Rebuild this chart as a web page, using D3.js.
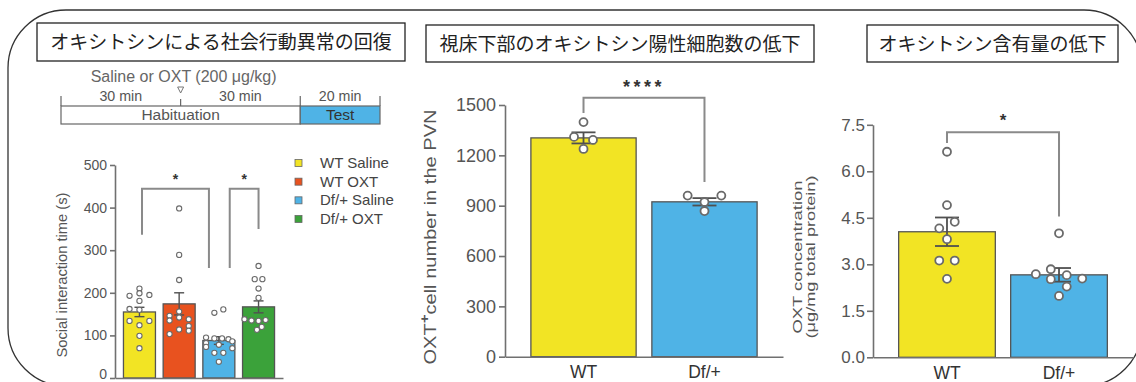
<!DOCTYPE html>
<html>
<head>
<meta charset="utf-8">
<script src="https://cdn.jsdelivr.net/npm/d3@7"></script>
<style>
  body { margin: 0; background: #fff; }
  svg { display: block; }
</style>
</head>
<body>
<svg id="chart" width="1136" height="382"></svg>
<script>
// ---------------- data ----------------
const panelTitles = [
  "オキシトシンによる社会行動異常の回復",
  "視床下部のオキシトシン陽性細胞数の低下",
  "オキシトシン含有量の低下"
];

// social interaction test (four treatment groups)
const socialGroups = ["WT Saline", "WT OXT", "Df/+ Saline", "Df/+ OXT"];
const socialMeans = [155, 174, 88, 167];
const socialSem = [11, 26, 9, 14];
const socialPoints = [
  [210, 199, 193, 195, 181, 162, 160, 134, 124, 134, 99, 70],
  [398, 289, 230, 156, 146, 142, 138, 135, 122, 114, 111, 103],
  [161, 153, 95, 93, 93, 91, 86, 82, 78, 73, 70, 59, 59, 38],
  [263, 232, 232, 210, 188, 138, 135, 134, 136, 120, 113]
];
// horizontal lane of each dot, as a fraction of the bar width
const socialLanes = [
  [0, 0, -0.31, 0.31, 0, -0.31, 0, -0.31, 0, 0.31, 0, 0],
  [0, 0, 0, 0, -0.3, 0, 0.3, -0.3, 0.3, 0, 0.3, -0.3],
  [0.14, -0.14, -0.4, -0.14, 0.1, 0.3, 0.42, -0.4, 0, -0.4, 0.42, -0.14, 0.14, 0],
  [0, -0.12, 0.12, 0, 0, -0.44, -0.22, 0, 0.22, 0.1, -0.05]
];
const socialTicks = [0, 100, 200, 300, 400, 500];
const socialBrackets = [
  { from: 0, to: 2, top: 444, legs: [336, 258], shift: [0.08, -0.31], label: "*", labelAt: 474 },
  { from: 2, to: 3, top: 444, legs: [258, 350], shift: [0.34, 0], label: "*", labelAt: 474 }
];

// test schedule (minutes)
const scheduleMarks = [0, 30, 60, 80];
const schedulePhases = ["Habituation", "Test"];
const phaseBounds = [[0, 60], [60, 80]];
const intervalLabels = ["30 min", "30 min", "20 min"];
const injectionTime = 30;
const injectionLabel = "Saline or OXT (200 μg/kg)";

// OXT+ cells in the PVN
const genotypes = ["WT", "Df/+"];
const cellMeans = [1304, 923];
const cellSem = [33, 22];
const cellPoints = [[1398, 1310, 1292, 1238], [960, 922, 960, 868]];
const cellLanes = [[0, -0.09, 0.09, 0], [-0.16, 0, 0.16, 0]];
const cellTicks = [0, 300, 600, 900, 1200, 1500];
const cellBrackets = [{ from: 0, to: 1, top: 1543, legs: [1453, 1041], shift: [0, 0], label: "****", labelAt: 1632 }];

// OXT content
const oxtMeans = [4.05, 2.66];
const oxtSem = [0.46, 0.22];
const oxtPoints = [
  [6.63, 4.91, 4.16, 4.37, 3.81, 3.12, 3.12, 2.53],
  [4.0, 2.68, 2.84, 2.52, 2.65, 2.54, 2.28, 1.98]
];
const oxtLanes = [
  [0, 0, -0.08, 0.08, 0, -0.08, 0.08, 0],
  [0, -0.24, -0.085, -0.085, 0.08, 0.24, 0.08, 0]
];
const oxtTicks = [0, 1.5, 3, 4.5, 6, 7.5];
const oxtBrackets = [{ from: 0, to: 1, top: 7.26, legs: [6.91, 4.54], shift: [0, 0], label: "*", labelAt: 7.75 }];

// ---------------- styles ----------------
const FONT = '"Liberation Sans", Arial, sans-serif';
const FONT_JP = '"Noto Sans CJK JP", "Noto Sans CJK SC", sans-serif';
const groupColors = ["#f2e424", "#e8521f", "#4fb3e6", "#3ba23a"];
const genotypeColors = ["#f2e424", "#4fb3e6"];
const AXIS = "#707070", LABEL = "#555", BRACKET = "#8a8a8a";

const svg = d3.select("#chart");

// outer rounded frame
svg.append("rect")
  .attr("x", 8).attr("y", 10).attr("width", 1134).attr("height", 376).attr("rx", 58)
  .attr("fill", "none").attr("stroke", "#333").attr("stroke-width", 1.3);

// panel headings in boxes
const titleBoxes = [[37, 23, 368, 38], [426, 25, 388, 37], [867, 25, 251, 37]];
titleBoxes.forEach((b, i) => {
  svg.append("rect").attr("x", b[0]).attr("y", b[1]).attr("width", b[2]).attr("height", b[3])
    .attr("fill", "#fff").attr("stroke", "#222").attr("stroke-width", 1.3);
  svg.append("text").attr("x", b[0] + b[2] / 2).attr("y", b[1] + b[3] / 2 + 7)
    .attr("text-anchor", "middle").attr("font-family", FONT_JP).attr("font-size", 19)
    .attr("fill", "#222").text(panelTitles[i]);
});

// squeeze text horizontally around its own anchor point
function squeeze(sel, sx) {
  sel.each(function () {
    const t = d3.select(this);
    const x = +t.attr("x") || 0, y = +t.attr("y") || 0;
    t.attr("transform", `translate(${x},${y}) scale(${sx},1) translate(${-x},${-y})`);
  });
}

// ---------------- schedule ----------------
const tl = d3.scaleLinear().domain([0, 80]).range([61, 380]);
const sg = svg.append("g").attr("font-family", FONT);
sg.selectAll("rect").data(phaseBounds).join("rect")
  .attr("x", d => tl(d[0])).attr("y", 106)
  .attr("width", d => tl(d[1]) - tl(d[0])).attr("height", 18)
  .attr("fill", (d, i) => i ? "#4fb3e6" : "#fff")
  .attr("stroke", "#666").attr("stroke-width", 1.2);
sg.selectAll("text.phase").data(phaseBounds).join("text").attr("class", "phase")
  .attr("x", d => (tl(d[0]) + tl(d[1])) / 2).attr("y", 120)
  .attr("text-anchor", "middle").attr("font-size", 15.5).attr("fill", (d, i) => i ? "#333" : "#555")
  .text((d, i) => schedulePhases[i]);
sg.selectAll("line.mark").data(scheduleMarks).join("line").attr("class", "mark")
  .attr("x1", d => tl(d)).attr("x2", d => tl(d))
  .attr("y1", d => d === injectionTime ? 99 : 96).attr("y2", 106)
  .attr("stroke", "#666").attr("stroke-width", 1.2);
sg.selectAll("text.interval").data(intervalLabels).join("text").attr("class", "interval")
  .attr("x", (d, i) => (tl(scheduleMarks[i]) + tl(scheduleMarks[i + 1])) / 2).attr("y", 101)
  .attr("text-anchor", "middle").attr("font-size", 15).attr("fill", "#555")
  .text(d => d).call(squeeze, 0.95);
sg.append("path")
  .attr("d", `M${tl(injectionTime) - 3},87 L${tl(injectionTime) + 3},87 L${tl(injectionTime)},93 Z`)
  .attr("fill", "#fff").attr("stroke", "#777").attr("stroke-width", 1);
sg.append("text").attr("x", tl(injectionTime) + 3).attr("y", 82)
  .attr("text-anchor", "middle").attr("font-size", 16).attr("fill", "#666")
  .text(injectionLabel);

// ---------------- generic bar + dots panel ----------------
function barPanel(cfg) {
  const g = svg.append("g").attr("font-family", FONT);
  const x = d3.scaleBand().domain(cfg.cats).range(cfg.xRange)
    .paddingInner(cfg.padIn).paddingOuter(cfg.padOut);
  const y = d3.scaleLinear().domain(cfg.yDomain).range(cfg.yRange);
  const bw = x.bandwidth();
  const cx = i => x(cfg.cats[i]) + bw / 2;

  // bars
  g.selectAll("rect.bar").data(cfg.means).join("rect").attr("class", "bar")
    .attr("x", (d, i) => x(cfg.cats[i])).attr("y", d => y(d))
    .attr("width", bw).attr("height", d => y(0) - y(d))
    .attr("fill", (d, i) => cfg.colors[i])
    .attr("stroke", "#555").attr("stroke-width", 1.3);

  // error bars (mean ± SEM)
  const eb = g.append("g").attr("stroke", "#505050").attr("stroke-width", cfg.ebWidth);
  cfg.means.forEach((m, i) => {
    const s = cfg.sem[i];
    eb.append("line").attr("x1", cx(i)).attr("x2", cx(i)).attr("y1", y(m - s)).attr("y2", y(m + s));
    [m - s, m + s].forEach(v => eb.append("line")
      .attr("x1", cx(i) - cfg.cap).attr("x2", cx(i) + cfg.cap).attr("y1", y(v)).attr("y2", y(v)));
  });

  // individual animals
  cfg.points.forEach((arr, i) => {
    g.append("g").selectAll("circle").data(arr).join("circle")
      .attr("cx", (d, j) => cx(i) + cfg.lanes[i][j] * bw)
      .attr("cy", d => y(d)).attr("r", cfg.r)
      .attr("fill", "#fff").attr("stroke", "#6a6a6a").attr("stroke-width", cfg.dotStroke);
  });

  // axes
  const ya = g.append("g").attr("transform", `translate(${cfg.xRange[0]},0)`)
    .call(d3.axisLeft(y).tickValues(cfg.ticks).tickSize(cfg.tickLen).tickSizeOuter(0)
      .tickPadding(cfg.tickPad).tickFormat(cfg.tickFormat || d3.format("d")));
  const xa = g.append("g").attr("transform", `translate(0,${y(0)})`)
    .call(d3.axisBottom(x).tickSize(0).tickSizeOuter(0).tickPadding(cfg.xPad || 0)
      .tickFormat(cfg.xLabels ? (d, i) => cfg.xLabels[i] : () => ""));
  [ya, xa].forEach(a => {
    a.select(".domain").attr("stroke", AXIS).attr("stroke-width", 1.6);
    a.selectAll(".tick line").attr("stroke", AXIS).attr("stroke-width", 1.6);
  });
  ya.selectAll(".tick text").attr("font-size", cfg.tickFont).attr("fill", LABEL)
    .attr("font-family", FONT)
    .attr("transform", `scale(${cfg.tickSqueeze},1)`);
  // keep the zero label inside the page when the baseline sits at the bottom edge
  if (cfg.zeroLabelDy !== undefined) {
    ya.selectAll(".tick text").filter(d => d === 0).attr("dy", cfg.zeroLabelDy);
  }
  xa.selectAll(".tick text").attr("font-size", cfg.xFont || 18).attr("fill", "#333")
    .attr("font-family", FONT);

  // significance brackets
  cfg.brackets.forEach(b => {
    const x1 = cx(b.from) + b.shift[0] * bw, x2 = cx(b.to) + b.shift[1] * bw;
    g.append("path")
      .attr("d", `M${x1},${y(b.legs[0])} V${y(b.top)} H${x2} V${y(b.legs[1])}`)
      .attr("fill", "none").attr("stroke", BRACKET).attr("stroke-width", cfg.bracketWidth);
    g.append("text").attr("x", (x1 + x2) / 2).attr("y", y(b.labelAt) + cfg.starFont * 0.55)
      .attr("text-anchor", "middle").attr("font-size", cfg.starFont).attr("font-weight", "bold")
      .attr("letter-spacing", cfg.starSpacing || 0).attr("fill", "#333").text(b.label);
  });

  // y-axis title (one or two lines, rotated)
  cfg.yTitle.forEach((line, k) => {
    const t = g.append("text")
      .attr("transform", `translate(${cfg.yTitleX[k]},${cfg.yTitleY}) rotate(-90)`)
      .attr("text-anchor", "middle").attr("font-size", cfg.yTitleFont).attr("fill", LABEL)
      .attr("textLength", cfg.yTitleLen[k]).attr("lengthAdjust", "spacingAndGlyphs");
    if (Array.isArray(line)) {
      line.forEach(part => {
        const ts = t.append("tspan").text(part.text);
        if (part.sup) ts.attr("font-size", cfg.yTitleFont * 0.75).attr("dy", -7).attr("font-weight", "bold");
        if (part.after) ts.attr("dy", 7);
      });
    } else t.text(line);
  });
  return { x, y };
}

// social interaction
barPanel({
  cats: socialGroups, means: socialMeans, sem: socialSem, points: socialPoints, lanes: socialLanes,
  colors: groupColors, xRange: [115, 283], padIn: 0.194, padOut: 0.213,
  yDomain: [0, 500], yRange: [378, 165], ticks: socialTicks,
  tickLen: 5, tickPad: 3, tickFont: 14, tickSqueeze: 1, zeroLabelDy: "0em",
  r: 2.6, dotStroke: 1.1, cap: 5, ebWidth: 1.4, bracketWidth: 2,
  brackets: socialBrackets, starFont: 14,
  yTitle: ["Social interaction time (s)"], yTitleX: [67], yTitleY: 275, yTitleFont: 14, yTitleLen: [165]
});

// OXT+ cell number
barPanel({
  cats: genotypes, means: cellMeans, sem: cellSem, points: cellPoints, lanes: cellLanes,
  colors: genotypeColors, xRange: [505, 783], padIn: 0.13, padOut: 0.214,
  yDomain: [0, 1500], yRange: [356.7, 105], ticks: cellTicks,
  tickLen: 6, tickPad: 3, tickFont: 18, tickSqueeze: 1,
  r: 4, dotStroke: 1.8, cap: 12, ebWidth: 1.8, bracketWidth: 2,
  brackets: cellBrackets, starFont: 18, starSpacing: 3.5,
  xLabels: genotypes, xPad: 9, xFont: 17.5,
  yTitle: [[{ text: "OXT" }, { text: "+", sup: true }, { text: "cell number in the PVN", after: true }]],
  yTitleX: [436], yTitleY: 237, yTitleFont: 17, yTitleLen: [255]
});

// OXT concentration
barPanel({
  cats: genotypes, means: oxtMeans, sem: oxtSem, points: oxtPoints, lanes: oxtLanes,
  colors: genotypeColors, xRange: [873, 1133], padIn: 0.137, padOut: 0.229,
  yDomain: [0, 7.5], yRange: [357.3, 124.8], ticks: oxtTicks, tickFormat: d3.format(".1f"),
  tickLen: 6, tickPad: 2, tickFont: 17, tickSqueeze: 1,
  r: 4, dotStroke: 1.8, cap: 12, ebWidth: 1.8, bracketWidth: 2,
  brackets: oxtBrackets, starFont: 17,
  xLabels: genotypes, xPad: 9, xFont: 17.5,
  yTitle: ["OXT concentration", "(μg/mg total protein)"], yTitleX: [802, 815], yTitleY: 257,
  yTitleFont: 13, yTitleLen: [153, 163]
});

// legend for the social interaction groups
const lg = svg.append("g").attr("font-family", FONT);
const legendY = d3.scalePoint().domain(socialGroups).range([163, 219]);
lg.selectAll("rect").data(socialGroups).join("rect")
  .attr("x", 295).attr("y", d => legendY(d) - 3.5).attr("width", 7).attr("height", 7)
  .attr("fill", (d, i) => groupColors[i]).attr("stroke", "#666").attr("stroke-width", 0.8);
lg.selectAll("text").data(socialGroups).join("text")
  .attr("x", 320).attr("y", d => legendY(d) + 5)
  .attr("font-size", 15).attr("fill", "#444").text(d => d);
</script>
</body>
</html>
